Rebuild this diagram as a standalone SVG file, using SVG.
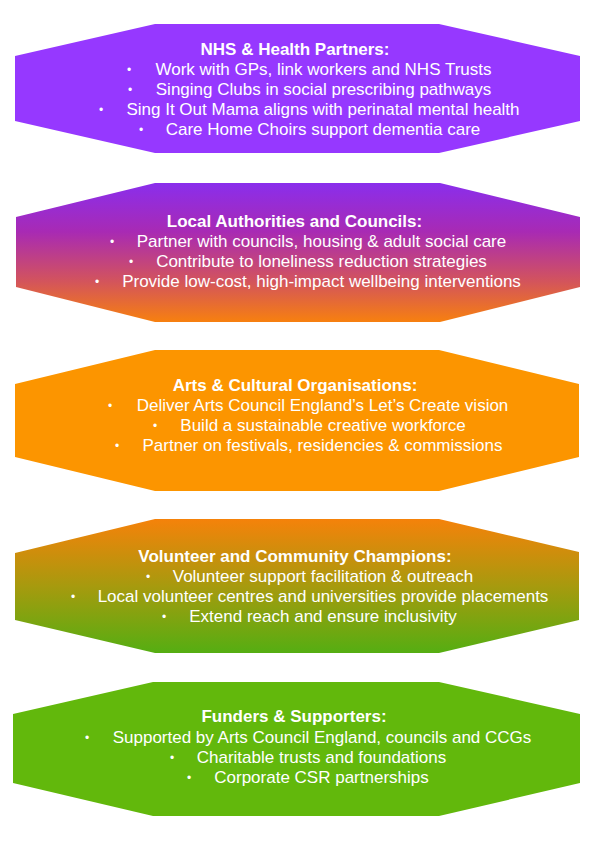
<svg xmlns="http://www.w3.org/2000/svg" width="595" height="841" viewBox="0 0 595 841">
<defs>
<linearGradient id="g2" x1="0" y1="0" x2="0" y2="1">
<stop offset="0" stop-color="#8A2EEC"/>
<stop offset="0.35" stop-color="#A82AB4"/>
<stop offset="0.7" stop-color="#D2535E"/>
<stop offset="1" stop-color="#F7800F"/>
</linearGradient>
<linearGradient id="g4" x1="0" y1="0" x2="0" y2="1">
<stop offset="0" stop-color="#F5820A"/>
<stop offset="0.5" stop-color="#A79A0E"/>
<stop offset="1" stop-color="#55AE12"/>
</linearGradient>
<style>
text{font-family:"Liberation Sans",Arial,Helvetica,sans-serif;fill:#ffffff;font-size:17px}
.t{font-weight:bold;text-anchor:middle}
.l{text-anchor:middle}
.b{font-size:12px}
</style>
</defs>
<rect width="595" height="841" fill="#ffffff"/>
<g id="node-nhs">
<polygon points="155,24 439,24 580,56 580,121 439,153 155,153 15,121 15,56" fill="#9638FF"/>
<text class="t" x="295" y="55">NHS &amp; Health Partners:</text>
<text class="b" x="127" y="74">•</text><text class="l" x="323.5" y="75">Work with GPs, link workers and NHS Trusts</text>
<text class="b" x="128" y="94">•</text><text class="l" x="323.5" y="95">Singing Clubs in social prescribing pathways</text>
<text class="b" x="99" y="114">•</text><text class="l" x="323" y="115">Sing It Out Mama aligns with perinatal mental health</text>
<text class="b" x="139" y="134">•</text><text class="l" x="323" y="135">Care Home Choirs support dementia care</text>
</g>
<g id="node-councils">
<polygon points="155,183 440,183 580,217 580,287 440,322 155,322 16,287 16,217" fill="url(#g2)"/>
<text class="t" x="294.5" y="227">Local Authorities and Councils:</text>
<text class="b" x="110" y="246">•</text><text class="l" x="321.5" y="247">Partner with councils, housing &amp; adult social care</text>
<text class="b" x="129" y="266">•</text><text class="l" x="321.5" y="267">Contribute to loneliness reduction strategies</text>
<text class="b" x="95" y="286">•</text><text class="l" x="321.5" y="287">Provide low-cost, high-impact wellbeing interventions</text>
</g>
<g id="node-arts">
<polygon points="155,350 439,350 579,384 579,457 439,491 155,491 15,457 15,384" fill="#FC9500"/>
<text class="t" x="295" y="391">Arts &amp; Cultural Organisations:</text>
<text class="b" x="108" y="410">•</text><text class="l" x="322.5" y="411">Deliver Arts Council England’s Let’s Create vision</text>
<text class="b" x="153" y="430">•</text><text class="l" x="323" y="431">Build a sustainable creative workforce</text>
<text class="b" x="115" y="450">•</text><text class="l" x="322.5" y="451">Partner on festivals, residencies &amp; commissions</text>
</g>
<g id="node-volunteers">
<polygon points="155,519 439,519 579,552 579,620 439,653 155,653 15,620 15,553" fill="url(#g4)"/>
<text class="t" x="295" y="562">Volunteer and Community Champions:</text>
<text class="b" x="146" y="581">•</text><text class="l" x="323" y="582">Volunteer support facilitation &amp; outreach</text>
<text class="b" x="71" y="601">•</text><text class="l" x="323" y="602">Local volunteer centres and universities provide placements</text>
<text class="b" x="162" y="621">•</text><text class="l" x="323" y="622">Extend reach and ensure inclusivity</text>
</g>
<g id="node-funders">
<polygon points="153,682 439,682 580,714 580,783 439,816 153,816 13,783 13,714" fill="#62B80C"/>
<text class="t" x="294" y="722">Funders &amp; Supporters:</text>
<text class="b" x="85" y="742">•</text><text class="l" x="322" y="743">Supported by Arts Council England, councils and CCGs</text>
<text class="b" x="170" y="762">•</text><text class="l" x="321.5" y="763">Charitable trusts and foundations</text>
<text class="b" x="187" y="782">•</text><text class="l" x="321.5" y="783">Corporate CSR partnerships</text>
</g>
<g id="connectors"></g>
</svg>
